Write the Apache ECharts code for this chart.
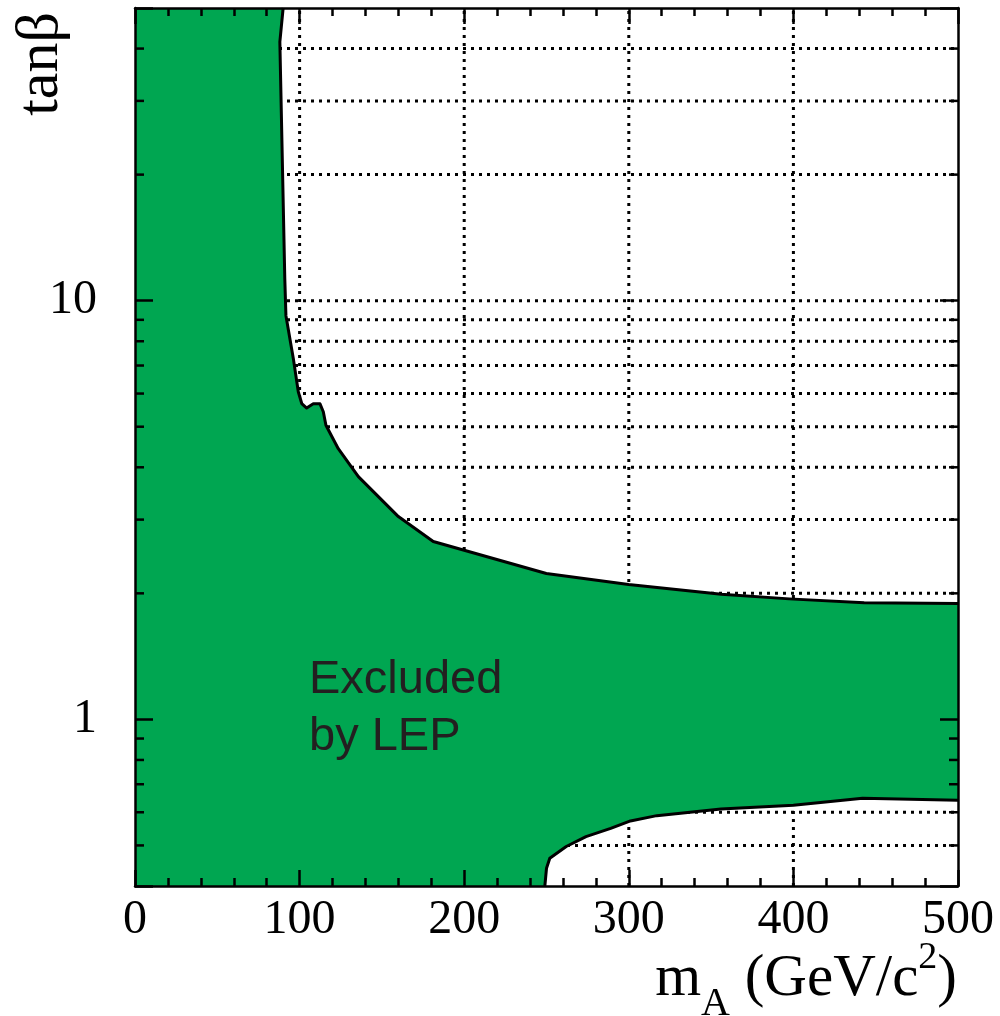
<!DOCTYPE html>
<html><head><meta charset="utf-8">
<script src="https://cdn.jsdelivr.net/npm/echarts/dist/echarts.min.js"></script>
<style>html,body{margin:0;padding:0;background:#fff}#c{width:1000px;height:1016px}</style>
</head><body><div id="c"></div>
<script>
// Upper boundary of the excluded region (m_A in GeV/c^2, tanβ), from top edge to right edge
const upperX = [90, 88, 91, 91.7, 96.2, 99.2, 101.3, 104.3, 108.3, 112.4, 114.4, 116, 123.5, 135.7, 160, 181.2, 249.9, 299.9, 356.2, 397.5, 443, 500];
const upperY = [50, 41.5, 11.3, 9.21, 7.27, 6.06, 5.68, 5.54, 5.67, 5.67, 5.43, 5.04, 4.43, 3.80, 3.05, 2.66, 2.23, 2.10, 1.99, 1.94, 1.90, 1.89];
// Lower boundary (from bottom edge to right edge)
const lowerX = [249, 250, 252, 262, 274, 289, 301, 317, 356, 400, 442, 500];
const lowerY = [0.40, 0.441, 0.466, 0.497, 0.525, 0.549, 0.572, 0.589, 0.611, 0.624, 0.648, 0.641];
// Grid lines and ticks
const xGrid = [100, 200, 300, 400];
const yGrid = [0.5, 0.6, 0.7, 0.8, 0.9, 1, 2, 3, 4, 5, 6, 7, 8, 9, 10, 20, 30, 40];
const yMinorTicks = [0.5, 0.6, 0.7, 0.8, 0.9, 2, 3, 4, 5, 6, 7, 8, 9, 20, 30, 40];
const yLabelValues = [1, 10];
const xRange = [0, 500];
const yRange = [0.4, 50];

const SERIF = '"Liberation Serif", "Times New Roman", serif';
const SANS = '"Liberation Sans", Arial, Helvetica, sans-serif';
const GREEN = '#00a651';
const DOT = [3, 5];

const chart = echarts.init(document.getElementById('c'), null, {renderer: 'canvas'});

function axisCommon(pos, isX, showLabel) {
  const base = {
    position: pos, z: 10,
    axisLine: {show: true, onZero: false, lineStyle: {color: '#000', width: 2.5}},
    axisTick: {show: true, inside: true, length: isX ? 16 : 18, lineStyle: {color: '#000', width: 2.5}},
    splitLine: {show: false},
    axisLabel: {show: showLabel, color: '#000', fontFamily: SERIF, fontSize: 48}
  };
  if (isX) {
    Object.assign(base, {type: 'value', min: xRange[0], max: xRange[1], interval: 100,
      minorTick: {show: true, splitNumber: 5, length: 8, lineStyle: {color: '#000', width: 2.5}}});
    base.axisLabel.margin = 10;
  } else {
    Object.assign(base, {type: 'log', logBase: 10, min: yRange[0], max: yRange[1]});
    base.axisLabel.margin = 38;
    base.axisLabel.formatter = function (v) {
      for (const L of yLabelValues) if (Math.abs(v - L) < 1e-6 * L) return String(L);
      return '';
    };
  }
  return base;
}

const option = {
  animation: false,
  backgroundColor: '#fff',
  grid: {left: 135, top: 8, right: 42, bottom: 130, containLabel: false, outerBoundsMode: 'none'},
  xAxis: [axisCommon('bottom', true, true), axisCommon('top', true, false)],
  yAxis: [axisCommon('left', false, true), axisCommon('right', false, false)],
  series: [
    {
      type: 'custom', name: 'gridY', z: 1, silent: true,
      data: yGrid,
      renderItem: function (params, api) {
        const v = api.value(0);
        const a = api.coord([xRange[0], v]);
        const b = api.coord([xRange[1], v]);
        return {type: 'line', shape: {x1: a[0], y1: a[1], x2: b[0], y2: b[1]},
          style: {stroke: '#000', lineWidth: 3, lineDash: DOT}};
      }
    },
    {
      type: 'custom', name: 'gridX', z: 1, silent: true,
      data: xGrid,
      renderItem: function (params, api) {
        const v = api.value(0);
        const a = api.coord([v, yRange[0]]);
        const b = api.coord([v, yRange[1]]);
        return {type: 'line', shape: {x1: a[0], y1: a[1], x2: b[0], y2: b[1]},
          style: {stroke: '#000', lineWidth: 3, lineDash: DOT}};
      }
    },
    {
      type: 'custom', name: 'Excluded by LEP', z: 3, silent: true,
      data: [0],
      renderItem: function (params, api) {
        const up = upperX.map((x, i) => api.coord([x, upperY[i]]));
        const lo = lowerX.map((x, i) => api.coord([x, lowerY[i]]));
        const pts = [api.coord([xRange[0], yRange[0]]), api.coord([xRange[0], yRange[1]])]
          .concat(up).concat(lo.slice().reverse());
        return {type: 'group', children: [
          {type: 'polygon', shape: {points: pts}, style: {fill: GREEN, stroke: null}},
          {type: 'polyline', shape: {points: up}, style: {stroke: '#000', lineWidth: 3, fill: null, lineJoin: 'round'}},
          {type: 'polyline', shape: {points: lo}, style: {stroke: '#000', lineWidth: 3, fill: null, lineJoin: 'round'}}
        ]};
      }
    },
    {
      type: 'custom', name: 'minorTicksY', z: 12, silent: true,
      data: yMinorTicks,
      renderItem: function (params, api) {
        const v = api.value(0);
        const a = api.coord([xRange[0], v]);
        const b = api.coord([xRange[1], v]);
        const st = {stroke: '#000', lineWidth: 2.5};
        return {type: 'group', children: [
          {type: 'line', shape: {x1: a[0], y1: a[1], x2: a[0] + 9, y2: a[1]}, style: st},
          {type: 'line', shape: {x1: b[0] - 9, y1: b[1], x2: b[0], y2: b[1]}, style: st}
        ]};
      }
    }
  ],
  graphic: [
    {type: 'text', z: 100, x: 41, y: 12, rotation: Math.PI / 2,
      style: {text: 'tanβ', font: '60px ' + SERIF, fill: '#000',
        align: 'right', verticalAlign: 'middle', textAlign: 'right', textVerticalAlign: 'middle'}},
    {type: 'text', z: 100, x: 309, y: 680,
      style: {text: 'Excluded', font: '47px ' + SANS, fill: '#231f20',
        align: 'left', verticalAlign: 'middle', textAlign: 'left', textVerticalAlign: 'middle'}},
    {type: 'text', z: 100, x: 309, y: 737,
      style: {text: 'by LEP', font: '47px ' + SANS, fill: '#231f20',
        align: 'left', verticalAlign: 'middle', textAlign: 'left', textVerticalAlign: 'middle'}},
    {type: 'text', z: 100, x: 957, y: 934,
      style: {text: '{m|m}{s|A}{m| (GeV/c}{p|2}{m|)}',
        align: 'right', verticalAlign: 'top', textAlign: 'right', textVerticalAlign: 'top',
        rich: {
          m: {fontSize: 59, fontFamily: SERIF, fill: '#000'},
          s: {fontSize: 40, fontFamily: SERIF, fill: '#000', padding: [50, 0, 0, 0]},
          p: {fontSize: 38, fontFamily: SERIF, fill: '#000', padding: [0, 0, 42, 0]}
        }}}
  ]
};
chart.setOption(option);
</script>
</body></html>
